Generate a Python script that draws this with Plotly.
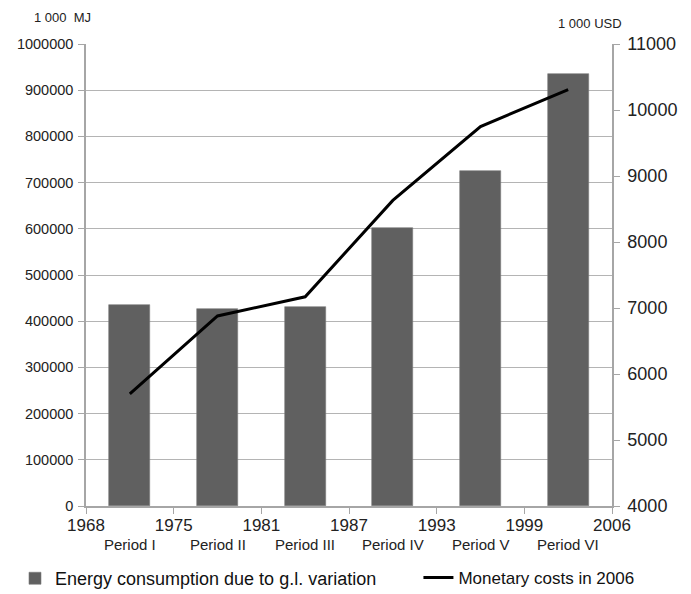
import plotly.graph_objects as go

periods = ["Period I", "Period II", "Period III", "Period IV", "Period V", "Period VI"]
years = ["1968", "1975", "1981", "1987", "1993", "1999", "2006"]
energy = [435000, 426000, 431000, 602000, 726000, 934000]
costs = [5700, 6880, 7170, 8630, 9750, 10310]

centers = [i + 0.5 for i in range(len(periods))]
bounds = list(range(len(years)))

FONT = "Liberation Sans"
GRID = "#b4b4b4"
AX = "#a6a6a6"

fig = go.Figure()
fig.add_trace(go.Bar(
    x=centers, y=energy, width=0.47,
    name="Energy consumption due to g.l. variation",
    marker=dict(color="#606060", line=dict(color="#7a7a7a", width=0.6)),
    yaxis="y", legend="legend",
))
fig.add_trace(go.Scatter(
    x=centers, y=costs, mode="lines",
    name="Monetary costs in 2006",
    line=dict(color="#000000", width=3),
    yaxis="y2", legend="legend2",
))

for c, p in zip(centers, periods):
    fig.add_annotation(x=c, y=-0.06, xref="x", yref="paper", text=p,
                       showarrow=False, yanchor="top",
                       font=dict(family=FONT, size=15, color="#222"))

fig.add_annotation(x=-0.044, y=1.058, xref="paper", yref="paper", text="1 000  MJ",
                   showarrow=False, xanchor="center", yanchor="middle",
                   font=dict(family=FONT, size=13, color="#222"))
fig.add_annotation(x=0.958, y=1.045, xref="paper", yref="paper", text="1 000 USD",
                   showarrow=False, xanchor="center", yanchor="middle",
                   font=dict(family=FONT, size=13, color="#222"))

fig.update_layout(
    width=691, height=594,
    margin=dict(l=86, r=79, t=44, b=88, autoexpand=False),
    paper_bgcolor="white", plot_bgcolor="white",
    font=dict(family=FONT, color="#222"),
    bargap=0,
    xaxis=dict(
        range=[0, 6], tickvals=bounds, ticktext=years,
        showgrid=False, zeroline=False,
        showline=True, linecolor=AX, linewidth=1.5,
        ticks="outside", ticklen=6, tickcolor=AX,
        ticklabelstandoff=-3,
        tickfont=dict(family=FONT, size=17, color="#222"),
    ),
    yaxis=dict(
        range=[0, 1000000], dtick=100000, tickformat="d",
        showgrid=True, gridcolor=GRID, gridwidth=1.2, zeroline=False,
        showline=True, linecolor=AX, linewidth=1.5,
        ticks="outside", ticklen=6, tickcolor=AX,
        ticklabelstandoff=2,
        tickfont=dict(family=FONT, size=14.5, color="#222"),
    ),
    yaxis2=dict(
        range=[4000, 11000], dtick=1000, tickformat="d",
        overlaying="y", side="right",
        showgrid=False, zeroline=False,
        showline=True, linecolor=AX, linewidth=1.5,
        ticks="outside", ticklen=6, tickcolor=AX,
        ticklabelstandoff=4,
        tickfont=dict(family=FONT, size=18, color="#222"),
    ),
    showlegend=True,
    legend=dict(x=-0.135, y=-0.117, xanchor="left", yanchor="top",
                font=dict(family=FONT, size=18, color="#111"),
                itemwidth=30, bgcolor="rgba(0,0,0,0)"),
    legend2=dict(x=0.632, y=-0.117, xanchor="left", yanchor="top",
                 font=dict(family=FONT, size=17, color="#111"),
                 itemwidth=30, bgcolor="rgba(0,0,0,0)"),
)

fig.write_html("out.html")
